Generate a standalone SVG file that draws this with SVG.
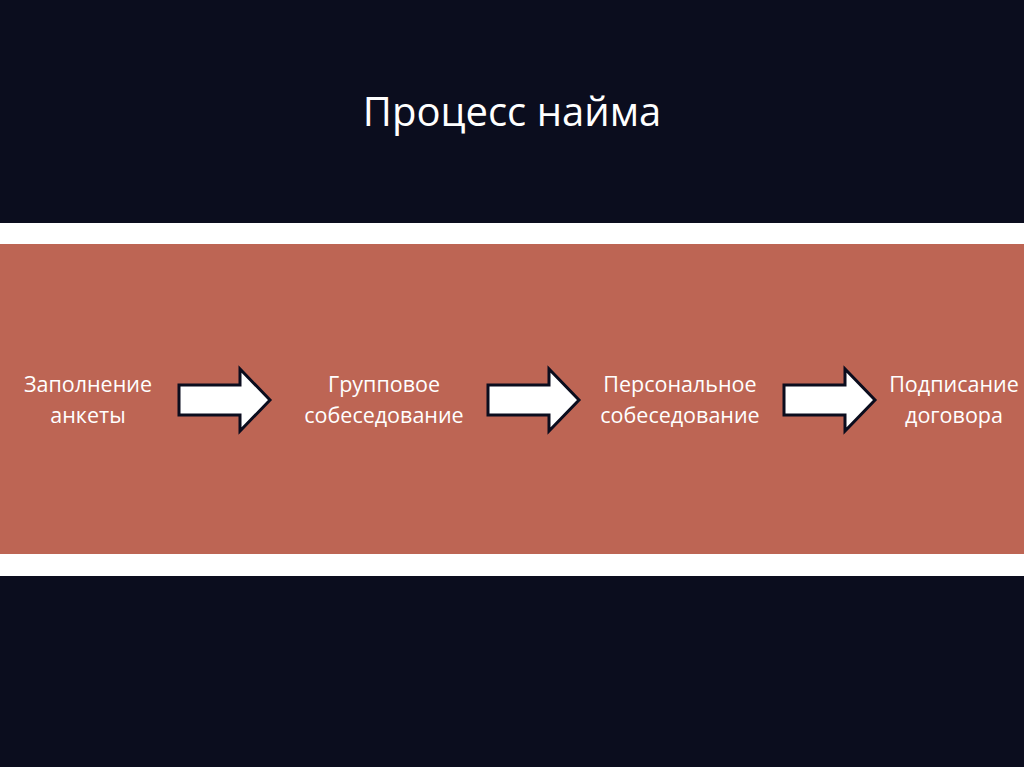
<svg xmlns="http://www.w3.org/2000/svg" width="1024" height="767" viewBox="0 0 1024 767">
<style>
.lbl{font-family:"Open Sans","Noto Sans",sans-serif;font-size:21.5px;fill:#ffffff;text-anchor:middle}
.arr{fill:#ffffff;stroke:#0b0d1e;stroke-width:3;stroke-linejoin:miter}
</style>
<defs>
<path id="arrow" d="M0,16 H61 V0 L91,31 L61,62 V46 H0 Z"/>
</defs>
<rect x="0" y="0" width="1024" height="767" fill="#0b0d1e"/>
<rect x="0" y="223" width="1024" height="353" fill="#ffffff"/>
<rect x="0" y="244" width="1024" height="310" fill="#bd6554"/>
<text x="512" y="126" font-family="Open Sans, Noto Sans, sans-serif" font-size="40" fill="#ffffff" text-anchor="middle">Процесс найма</text>
<g id="n1"><text class="lbl" x="88" y="392">Заполнение</text><text class="lbl" x="88" y="423">анкеты</text></g>
<g id="n2"><text class="lbl" x="384" y="392">Групповое</text><text class="lbl" x="384" y="423">собеседование</text></g>
<g id="n3"><text class="lbl" x="680" y="392">Персональное</text><text class="lbl" x="680" y="423">собеседование</text></g>
<g id="n4"><text class="lbl" x="954" y="392">Подписание</text><text class="lbl" x="954" y="423">договора</text></g>
<g id="connectors">
<use href="#arrow" class="arr" x="179" y="369"/>
<use href="#arrow" class="arr" x="488" y="369"/>
<use href="#arrow" class="arr" x="784" y="369"/>
</g>
</svg>
